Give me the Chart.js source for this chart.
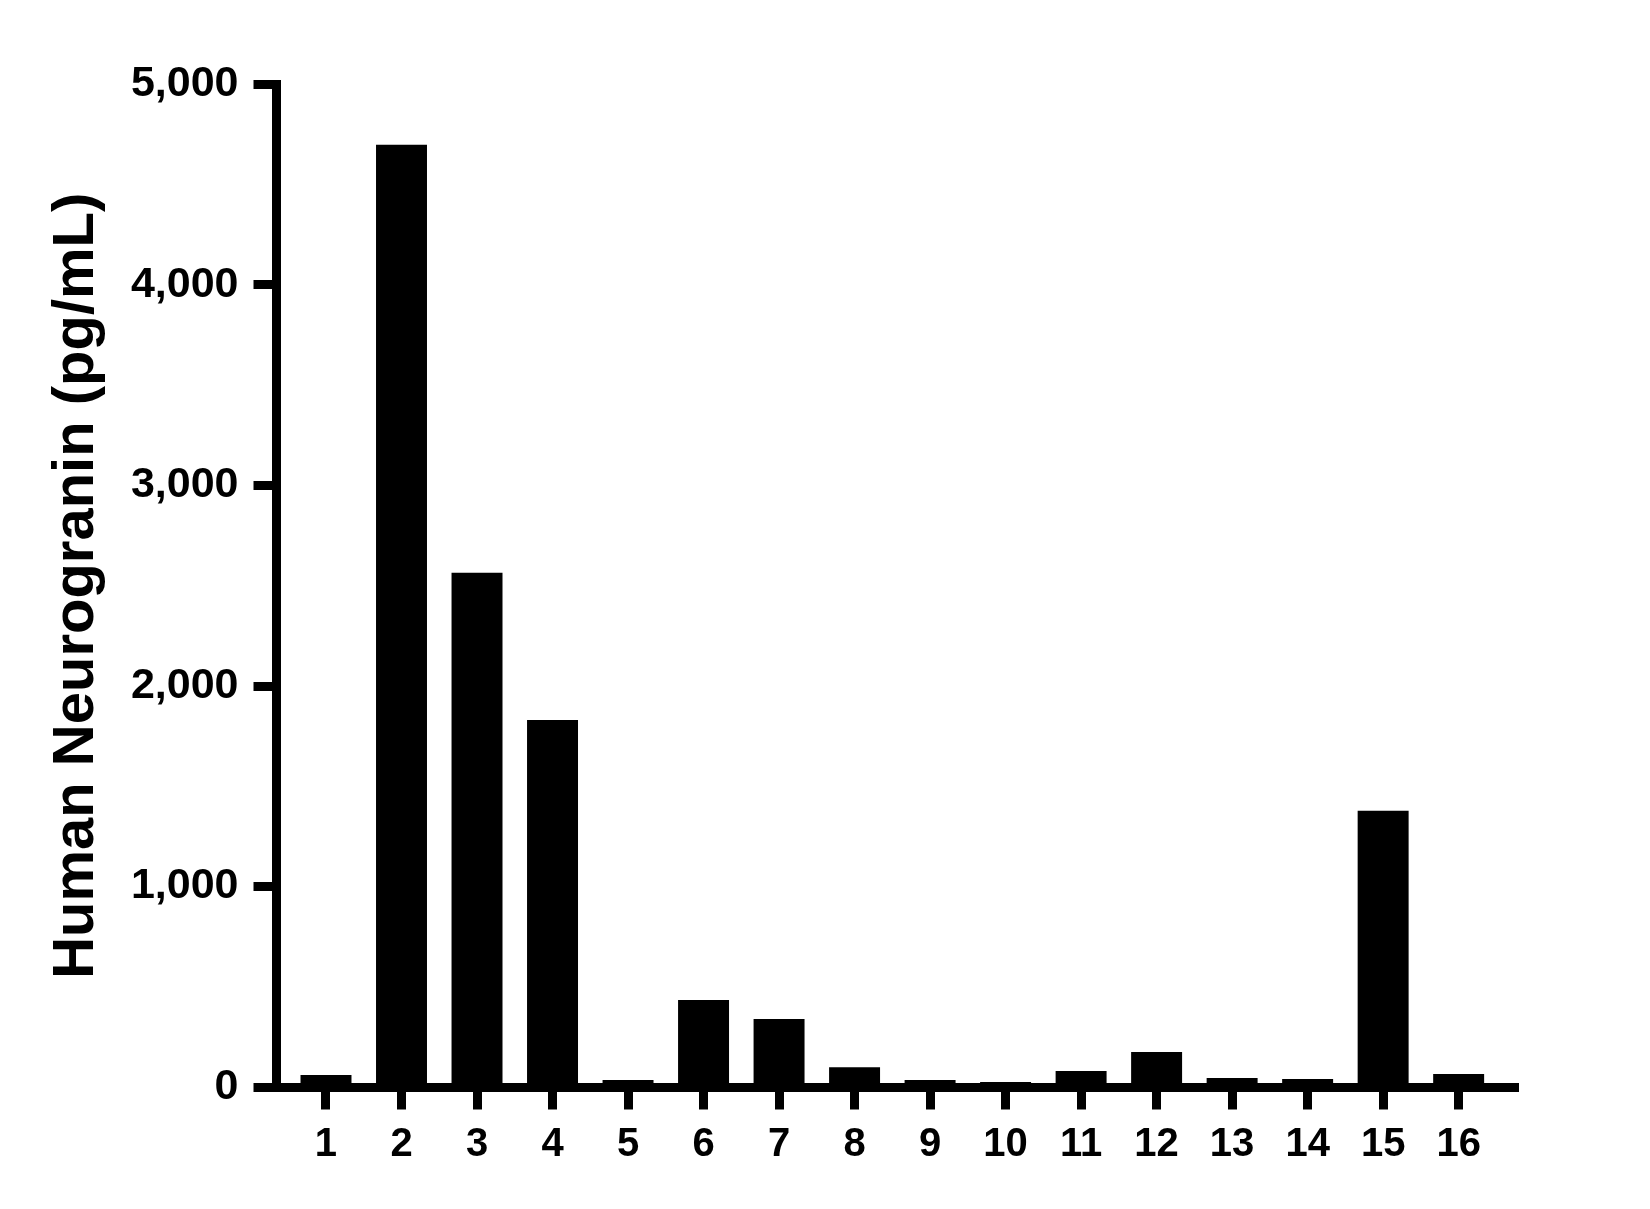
<!DOCTYPE html>
<html>
<head>
<meta charset="utf-8">
<title>Human Neurogranin</title>
<script src="https://cdn.jsdelivr.net/npm/chart.js@4.4.1/dist/chart.umd.min.js"></script>
<style>
    html, body { margin: 0; padding: 0; background: #fff; }
    #wrap { width: 1650px; height: 1209px; position: relative; }
</style>
</head>
<body>
<div id="wrap"><canvas id="chart"></canvas></div>
<script>
    // sample numbers on the x axis
    const categories = [1, 2, 3, 4, 5, 6, 7, 8, 9, 10, 11, 12, 13, 14, 15, 16];
    // Human Neurogranin, pg/mL
    const neurograninValues = [60, 4700, 2565, 1830, 35, 434, 339, 98, 35, 25, 80, 175, 45, 40, 1378, 65];
    const yTicks = [0, 1000, 2000, 3000, 4000, 5000];
    const yTitle = 'Human Neurogranin (pg/mL)';

    const fontFamily = "'Liberation Sans', Arial, Helvetica, sans-serif";

    const points = categories.map((c, i) => ({ x: c, y: neurograninValues[i] }));

    const ctx = document.getElementById('chart').getContext('2d');
    new Chart(ctx, {
        type: 'bar',
        data: {
            datasets: [{
                data: points,
                backgroundColor: '#000',
                borderWidth: 0,
                categoryPercentage: 1,
                barPercentage: 0.675
            }]
        },
        options: {
            responsive: true,
            maintainAspectRatio: false,
            animation: false,
            devicePixelRatio: 1,
            layout: { padding: { top: 84.5, right: 132, bottom: 0, left: 0 } },
            plugins: {
                legend: { display: false },
                tooltip: { enabled: false }
            },
            scales: {
                x: {
                    type: 'linear',
                    offset: false,
                    min: 0.3445,
                    max: 16.786,
                    afterBuildTicks: (scale) => {
                        scale.ticks = categories.map(v => ({ value: v }));
                    },
                    afterFit: (scale) => { scale.height = 122; },
                    grid: {
                        offset: false,
                        drawOnChartArea: false,
                        drawTicks: true,
                        tickLength: 22.5,
                        tickWidth: 9,
                        tickColor: '#000'
                    },
                    border: { display: true, width: 9, color: '#000' },
                    ticks: {
                        color: '#000',
                        padding: 11,
                        maxRotation: 0,
                        autoSkip: false,
                        font: { family: fontFamily, size: 40, weight: 'bold' },
                        callback: (v) => String(v)
                    }
                },
                y: {
                    min: 0,
                    max: 5000,
                    afterBuildTicks: (scale) => {
                        scale.ticks = yTicks.map(v => ({ value: v }));
                    },
                    afterFit: (scale) => { scale.width = 276.5; },
                    grid: {
                        drawOnChartArea: false,
                        drawTicks: true,
                        tickLength: 23,
                        tickWidth: 9,
                        tickColor: '#000'
                    },
                    border: { display: true, width: 9, color: '#000' },
                    ticks: {
                        color: '#000',
                        padding: 15,
                        font: { family: fontFamily, size: 43, weight: 'bold' },
                        callback: (v) => Number(v).toLocaleString('en-US')
                    },
                    title: {
                        display: true,
                        text: yTitle,
                        color: '#000',
                        padding: { top: 42, bottom: 0 },
                        font: { family: fontFamily, size: 58, weight: 'bold' }
                    }
                }
            }
        }
    });
</script>
</body>
</html>
